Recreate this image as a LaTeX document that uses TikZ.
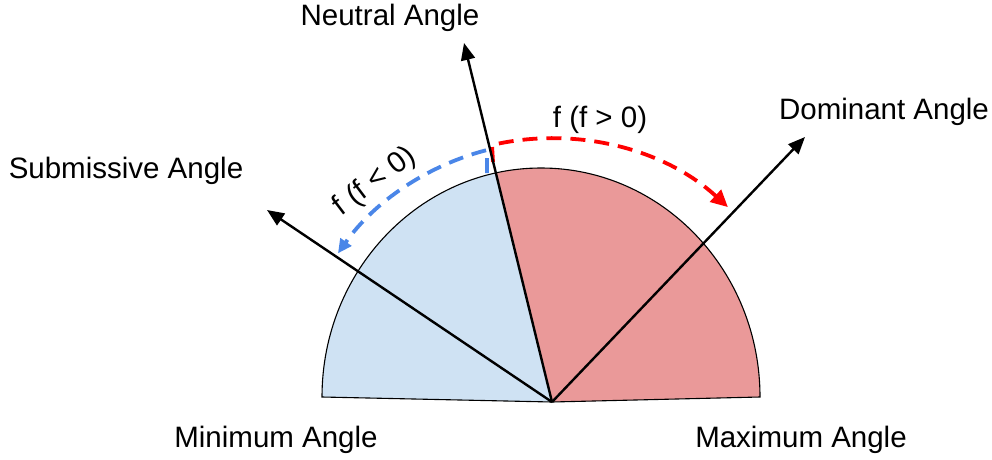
\documentclass[tikz,border=0pt]{standalone}
\usepackage{fontspec}
\setmainfont{Liberation Sans}
\usetikzlibrary{arrows.meta}
\definecolor{paleblue}{HTML}{CFE2F3}
\definecolor{palered}{HTML}{EA9999}
\definecolor{dashblue}{HTML}{4A86E8}
\definecolor{dashred}{HTML}{FF0000}

\begin{document}
\begin{tikzpicture}[x=1pt,y=1pt,
  lbl/.style={font=\fontsize{29.5}{32}\selectfont,inner sep=0pt,anchor=base},
  ray/.style={line width=2.4pt,-{Triangle[length=17pt,width=14pt]}},
  dsh/.style={line width=3.8pt,dash pattern=on 15pt off 9pt}]
  \useasboundingbox (0,0) rectangle (992,459);
  \coordinate (o) at (552,57);
  \coordinate (lft) at (322,62);
  \coordinate (rgt) at (760,62);
  \coordinate (nt) at (464,416);
  \coordinate (st) at (267,249);
  \coordinate (dt) at (805,322);
  % the two sectors of the half disc
  \fill[paleblue] (o) -- (lft) arc[start angle=180,end angle=101.7,x radius=219pt,y radius=229pt] -- cycle;
  \fill[palered] (o) -- (rgt) arc[start angle=0,end angle=101.7,x radius=219pt,y radius=229pt] -- cycle;
  \draw[line width=1.1pt] (o) -- (lft) arc[start angle=180,end angle=0,x radius=219pt,y radius=229pt] -- cycle;
  % dashed turns
  \draw[dsh,dashblue,-{Triangle[length=14pt,width=13pt]}] (487,286) -- (487,309)
    arc[start angle=104.5,end angle=145,radius=262pt];
  \draw[dsh,dashred,-{Triangle[length=17pt,width=16pt]}] (493,297) -- (492,314)
    arc[start angle=103,end angle=47.5,radius=262pt];
  % angle rays
  \draw[ray] (o) -- (nt);
  \draw[ray] (o) -- (st);
  \draw[ray] (o) -- (dt);
  % labels
  \node[lbl] (neu) at (390,433) {Neutral Angle};
  \node[lbl] (dom) at (884,340) {Dominant Angle};
  \node[lbl] (sub) at (126,281) {Submissive Angle};
  \node[lbl] (min) at (276,12) {Minimum Angle};
  \node[lbl] (max) at (801,12) {Maximum Angle};
  \node[lbl] (pos) at (600,332) {f (f > 0)};
  \node[lbl,anchor=center,rotate=37] (neg) at (375,277) {f (f < 0)};
\end{tikzpicture}
\end{document}
